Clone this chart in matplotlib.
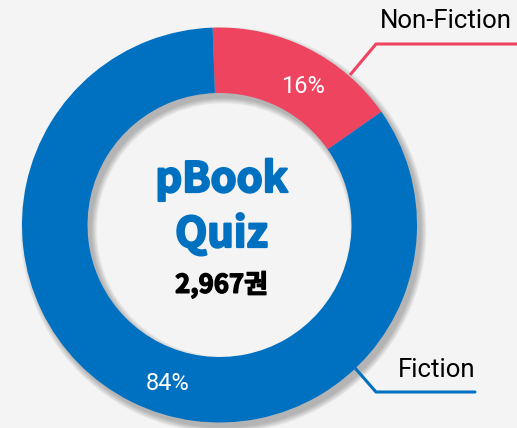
import matplotlib
matplotlib.use("Agg")
import matplotlib.pyplot as plt
import matplotlib.patheffects as pe
from matplotlib.patches import Wedge

plt.rcParams['font.family'] = ['Noto Sans CJK KR', 'DejaVu Sans']

# data
categories = ['Non-Fiction', 'Fiction']
values = [470, 2497]
colors = ['#EF445F', '#0070C0']
title_lines = ['pBook', 'Quiz']
total_label = '{:,}권'.format(sum(values))

W, H = 517, 428
fig = plt.figure(figsize=(W / 100, H / 100), dpi=100)
fig.patch.set_facecolor('#F4F4F4')
ax = fig.add_axes([0, 0, 1, 1])
ax.set_facecolor('#F4F4F4')

cx, cy = 219.5, H - 225
R = 197.5
ring = 65.5
start = 92

# soft drop shadow under the ring
for i in range(8):
    sh = Wedge((cx + 4, cy - 5), R + i * 0.8, 0, 360, width=ring + i * 1.6,
               facecolor='black', alpha=0.035, edgecolor='none', zorder=1)
    ax.add_patch(sh)

wedges, _ = ax.pie(values, colors=colors, startangle=start, counterclock=False,
                   radius=R, center=(cx, cy),
                   wedgeprops=dict(width=ring, edgecolor='none'))
for w in wedges:
    w.set_zorder(2)

pcts = [v / sum(values) * 100 for v in values]
ax.text(303, H - 86, '{:.0f}%'.format(pcts[0]), color='white', fontsize=17,
        ha='center', va='center', family='Roboto', zorder=3)
ax.text(168, H - 383, '{:.0f}%'.format(pcts[1]), color='white', fontsize=17,
        ha='center', va='center', family='Roboto', zorder=3)

# leader lines
ax.plot([350, 376, 517], [H - 75, H - 44, H - 44], color=colors[0], lw=2.2,
        solid_capstyle='butt', zorder=3, clip_on=False)
ax.plot([355, 376, 475], [H - 368, H - 392, H - 392], color=colors[1], lw=2.2,
        solid_capstyle='round', zorder=3)
ax.text(512, H - 21, categories[0], fontsize=18.5, ha='right', va='center',
        family='Roboto', color='black')
ax.text(475, H - 370, categories[1], fontsize=18.5, ha='right', va='center',
        family='Roboto', color='black')

# centre text, thickened to mimic a heavy face
blue_fx = [pe.withStroke(linewidth=1.6, foreground='#0070C0')]
ax.text(cx + 2, H - 180, title_lines[0], fontsize=30, fontweight='bold',
        color='#0070C0', ha='center', va='center', path_effects=blue_fx)
ax.text(cx + 2, H - 235, title_lines[1], fontsize=30, fontweight='bold',
        color='#0070C0', ha='center', va='center', path_effects=blue_fx)
ax.text(cx + 2, H - 285, total_label, fontsize=18.5, fontweight='bold',
        color='black', ha='center', va='center',
        path_effects=[pe.withStroke(linewidth=1.0, foreground='black')])

ax.set_xlim(0, W)
ax.set_ylim(0, H)
ax.set_aspect('auto')
ax.axis('off')

fig.savefig('out.png', dpi=100, facecolor=fig.get_facecolor())
